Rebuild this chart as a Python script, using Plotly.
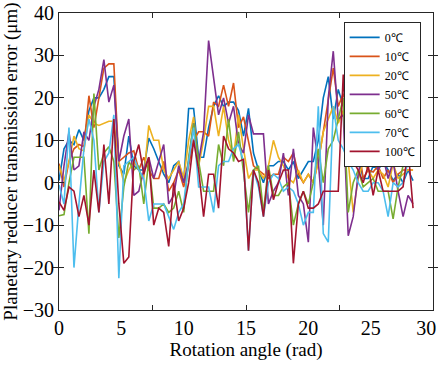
import plotly.graph_objects as go

x = [round(0.4 * i, 1) for i in range(72)]

s0 = [0.5, 8, 10, 9, 12.5, 10, 17, 20, 20, 22, 25, 25, 4, 2, 11, 4, 3, 3, 10.5, 8,
      5, 2, 0, 4, 5, 0, 17.5, 17.5, 6, 6, 13, 18, 20.5, 18, 19, 19, 17, 11, 17.5, 7,
      3, 0, 4, 4, 5, 5, 3, 5, 1, 3, 5, 5, 10, 20, 25, 15, 22, 18, 20, 15,
      6, 1, 1, 4, 3, 5, 3, 0.5, 2, 0, 3, 0.5]
s10 = [4.5, -1, 5, 8, 9, 8.5, 20.5, 13, 20, 27, 28, 28, 5, 6, 7, 7.5, 3, 6, 3, 1,
       1, 5, -2, 0, 3, -1, 4, 10, 12, 12, 11, 19, 18, 23, 18, 23.5, 13, 15.5, 10, 4,
       3, 2, 1, 2, 2, 6, 5, 7, 2, 0, 2, 0, 5, 12, 20, 27, 18, 21, 17, 5,
       9, 1, 3, 2.5, 4, 1, 3, 0, 2, 3, 3, 3]
s20 = [4, 0.5, 5, 11, 8, 7.5, 16, 14, 13.5, 14, 14.5, 14.5, 5, 0, 3, 5, 3, 1, 13.5, 10,
       10, 3, 1, 3, 5, 1, 10, 15.5, 4, 10, 18, 18, 11, 18, 10, 6, 16, 8, 1, 3,
       3, 1, 4, 10, 6, 4, 1, 0, 3, 0, 2, 0, 5, 12, 15, 18, 14, 17, 5, -7,
       1, 5, 3, 1, 3, 2, -1, 4.5, 1, 2, 3, 3]
s50 = [-6.5, 4, 12, 3, 4, 12, 10, 18, 22, 29, 19, 23, 5, 11, 15, -3, -2, 3, 6, 1,
       5, 9, -5, -3, 4, 0, 5, 14, 5, 12, 33.5, 25, 16, 20, 14, 18, 9, 7, 16, 11.5,
       11.5, 11.5, -5, -2, 0, 7, -3, 8, -3, -5, -14, 13, 5, -10, 20, 31, 15, 16, -12.5, -8,
       2, 8, 5, 9, 3, 6, 1, 5, -2, -8, -3, -5]
s60 = [-7.8, -7.5, 0, 6, 6, 6, -12, 21, 3, 7, 8.5, 5, -13, -1, 5, 3, 4, -5, 5, -6,
       -6, -5, -7, -6, -2, -7, 6, 14, 5, -2, -2, -2, 9, 4, 15, 5, 12, 3, -7, 3,
       4, -7, 4, -3, -3, -1, 0, -10, -5, -2, -5, 0, 8, 0, 8, 10, 15, 20, -7, 0,
       3, -1, 0, 1, -2, -2, -2, -8.5, -1, 4, 5, 5]
s70 = [-0.5, -5, 13, -20, -5, 8, 15, 10, -7, 5, 7, 16, -22.5, 4, 5, 6, 3, 1, -9, -5,
       -5, -5, -8, -11, -7, -5, 5, 13, -1, -1, -1, -7, 4, 5, 5, 8, 9, 5, -16, 3,
       -1, -8, 0, 2, 1, -2, -1, -2, -5, -10, -7, -7, 18, -12, -14, 18, 10, 8, 5, 3,
       0, -2, -2, 0, 0, -2, -8, 0, -1, 0, 5, 8]
s100 = [-4.5, -6.5, -1, -2, -8, -3, -10, 3, -7, 9, -5, 15, -5, -19, -17.5, 5, 9, 2, 6, -10,
        -6, -7, -15, 0, -9, -6, 0, 10, 3, -8, 2, 2, -6, 11, 8, 7, 5, 5.5, -16, 3,
        0, -8, 3, -4, 0, 3, 3, -19, -5, -2, -6, -6, -5, -2, -2, -2, -2, 25.5, 5, 5,
        3, 0, 4, -3, 3, -2, -2, -2, -2, -1, 8, -6]

names = ["0℃", "10℃", "20℃", "50℃", "60℃", "70℃", "100℃"]
series = [s0, s10, s20, s50, s60, s70, s100]
colors = ["#0072BD", "#D95319", "#EDB120", "#7E2F8E", "#77AC30", "#4DBEEE", "#A2142F"]

# tick label positions as drawn in the reference (last label pulled inside the frame)
xtickpos = [0, 5, 10, 15, 20, 25, 29.45]
xticktext = ["0", "5", "10", "15", "20", "25", "30"]
xminor = [7.5, 15, 22.5]
yticks = [-30, -20, -10, 0, 10, 20, 30, 40]

FONT = "Liberation Serif, Times New Roman, serif"
AX = "#262626"

fig = go.Figure()
for n, s, c in zip(names, series, colors):
    fig.add_trace(go.Scatter(x=x, y=s, mode="lines", name=n,
                             line=dict(color=c, width=1.6)))
fig.add_trace(go.Scatter(x=[None], y=[None], xaxis="x2", showlegend=False,
                         hoverinfo="skip"))

fig.update_layout(
    width=438, height=367,
    margin=dict(l=59, r=2, t=13, b=57),
    paper_bgcolor="white", plot_bgcolor="white",
    font=dict(family=FONT, size=20, color="black"),
    showlegend=True,
    legend=dict(x=0.967, y=0.97, xanchor="right", yanchor="top",
                bgcolor="white", bordercolor=AX, borderwidth=1,
                font=dict(family=FONT, size=12, color="black"),
                tracegroupgap=0, itemwidth=30),
    xaxis=dict(range=[0, 30], tickvals=xtickpos, ticktext=xticktext, ticks="",
               showgrid=False, zeroline=False, showline=True, linecolor=AX,
               linewidth=1, mirror=True, tickfont=dict(size=20),
               ticklabeloverflow="allow",
               title=dict(text="Rotation angle (rad)", font=dict(size=19), standoff=3)),
    xaxis2=dict(range=[0, 30], overlaying="x", anchor="y", side="bottom",
                tickvals=xminor, ticks="inside", ticklen=5, tickcolor=AX,
                showticklabels=False, showgrid=False, zeroline=False,
                showline=True, linecolor=AX, linewidth=1, mirror="allticks"),
    yaxis=dict(range=[-30, 40], tickvals=yticks, ticks="inside", ticklen=5,
               tickcolor=AX, showgrid=False, zeroline=False, showline=True,
               linecolor=AX, linewidth=1, mirror="allticks",
               tickfont=dict(size=20),
               title=dict(text="Planetary reducer transmission error (μm)",
                          font=dict(size=19), standoff=2)),
)

fig.write_html("out.html")
